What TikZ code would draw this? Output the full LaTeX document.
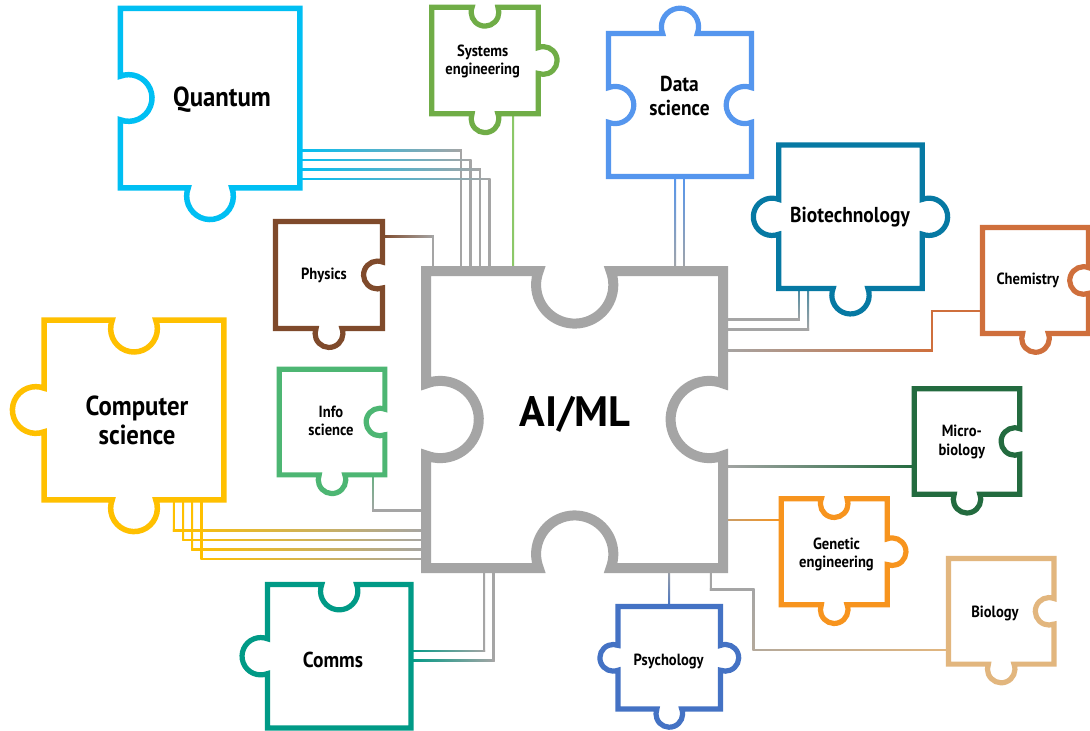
\documentclass[tikz,border=0pt]{standalone}
\usepackage{fontspec}
\setmainfont{PT Sans}[FakeStretch=0.9]
\newfontfamily\aifont{PT Sans}
\usetikzlibrary{calc}

\definecolor{cgray}{HTML}{A5A5A5}
\definecolor{cquan}{HTML}{00BFF3}
\definecolor{csys}{HTML}{70AD47}
\definecolor{csysl}{HTML}{8CC868}
\definecolor{cdata}{HTML}{5596EE}
\definecolor{cbio}{HTML}{0679A3}
\definecolor{cchem}{HTML}{CF6F3C}
\definecolor{cphys}{HTML}{7F4A2B}
\definecolor{cinfo}{HTML}{4DB673}
\definecolor{ccomp}{HTML}{FFC000}
\definecolor{ccomm}{HTML}{009A86}
\definecolor{cmicro}{HTML}{236B3F}
\definecolor{cgen}{HTML}{F7941E}
\definecolor{cbiol}{HTML}{E2B67E}
\definecolor{cpsy}{HTML}{4472C4}

% knob on one side: phi, Mx, My, tx, ty, type (1 out, -1 in, 0 none)
\newcommand\pknob[6]{%
\ifnum#6=0\relax\else
 \pgfmathsetmacro\kx{#2-\ph*(#4)}\pgfmathsetmacro\ky{#3-\ph*(#5)}%
 \pgfpathlineto{\pgfpoint{\kx pt}{\ky pt}}%
 \ifnum#6>0
   \pgfmathsetmacro\ka{#1+90+\pal}\pgfmathsetmacro\kb{#1-90-\pal}%
 \else
   \pgfmathsetmacro\ka{#1+90-\pal}\pgfmathsetmacro\kb{#1+270+\pal}%
 \fi
 \pgfpatharc{\ka}{\kb}{\pr pt}%
\fi}

% piece: cx, cy (pixel, y down), size, colour, T, R, B, L, line width
\newcommand\piece[9]{%
\begingroup
\pgfmathsetmacro\pcx{#1}%
\pgfmathsetmacro\pcy{-(#2)}%
\pgfmathsetmacro\phs{(#3)/2}%
\pgfmathsetmacro\pr{0.13*(#3)}%
\pgfmathsetmacro\pd{0.047*(#3)}%
\pgfmathsetmacro\ph{sqrt(\pr*\pr-\pd*\pd)}%
\pgfmathsetmacro\pal{asin(\pd/\pr)}%
\pgfmathsetmacro\pxl{\pcx-\phs}\pgfmathsetmacro\pxr{\pcx+\phs}%
\pgfmathsetmacro\pyt{\pcy+\phs}\pgfmathsetmacro\pyb{\pcy-\phs}%
\pgfsetlinewidth{#9pt}\pgfsetstrokecolor{#4}\pgfsetfillcolor{white}\pgfsetmiterjoin
\pgfpathmoveto{\pgfpoint{\pxl pt}{\pyt pt}}%
\pknob{90}{\pcx}{\pyt}{1}{0}{#5}%
\pgfpathlineto{\pgfpoint{\pxr pt}{\pyt pt}}%
\pknob{0}{\pxr}{\pcy}{0}{-1}{#6}%
\pgfpathlineto{\pgfpoint{\pxr pt}{\pyb pt}}%
\pknob{-90}{\pcx}{\pyb}{-1}{0}{#7}%
\pgfpathlineto{\pgfpoint{\pxl pt}{\pyb pt}}%
\pknob{180}{\pxl}{\pcy}{0}{1}{#8}%
\pgfpathclose
\pgfusepath{fill,stroke}%
\endgroup}

% connector segments (shaded strokes between named points)
\newcommand\hcon[4]{\shade[left color=#3,right color=#4] ($(#1)+(-0.9,-0.9)$) rectangle ($(#2)+(0.9,0.9)$);}
\newcommand\vcon[4]{\shade[top color=#3,bottom color=#4] ($(#1)+(-0.9,0.9)$) rectangle ($(#2)+(0.9,-0.9)$);}

\tikzset{
  box/.style={inner sep=0pt, draw=none, minimum size=#1},
  lbl/.style={inner sep=0pt, align=center, text=black},
  lblL/.style={lbl, font=\bfseries\fontsize{27.5}{29}\selectfont},
  lblM/.style={lbl, font=\bfseries\fontsize{21.6}{23.3}\selectfont},
  lblS/.style={lbl, font=\bfseries\fontsize{16.2}{18.2}\selectfont},
  lblAI/.style={lbl, font=\aifont\bfseries\fontsize{42.5}{46}\selectfont},
}

\begin{document}
\begin{tikzpicture}[x=1pt,y=1pt]
\useasboundingbox (0,0) rectangle (1090,-731);
\fill[white] (0,0) rectangle (1090,-731);

% ---- named piece nodes (square bodies) ----
\node[box=297pt]   (AI) at (574.7,-419.5) {};
\node[box=179.5pt] (Q)  at (210,-98) {};
\node[box=106.5pt] (S)  at (485,-60.5) {};
\node[box=143pt]   (D)  at (680,-105) {};
\node[box=143.5pt] (B)  at (850.5,-216.8) {};
\node[box=106pt]   (C)  at (1035.5,-280.5) {};
\node[box=107pt]   (P)  at (329,-275) {};
\node[box=105.7pt] (I)  at (332,-422) {};
\node[box=179.6pt] (K)  at (134,-410) {};
\node[box=143.5pt] (O)  at (339.2,-656.2) {};
\node[box=105.6pt] (M)  at (967,-441.5) {};
\node[box=106pt]   (G)  at (834.2,-551.7) {};
\node[box=105.6pt] (L)  at (1001.2,-611.3) {};
\node[box=102.5pt] (Y)  at (669.3,-657.8) {};

% ---- connectors ----
% Quantum
\foreach \i/\x/\y in {1/461/150.3, 2/470.5/160, 3/480/169.5, 4/489.5/179}{
  \coordinate (qb\i) at (\x,-\y);
  \coordinate (qa\i) at (Q.east |- qb\i);
  \coordinate (qc\i) at (qb\i |- AI.north);
  \hcon{qa\i}{qb\i}{cquan}{cgray}
  \vcon{qb\i}{qc\i}{cgray}{cgray}
}
% Physics
\coordinate (pb) at (433,-236.5);
\coordinate (pa) at (P.east |- pb);
\coordinate (pc) at (pb |- AI.north);
\hcon{pa}{pb}{cphys}{cgray}
\vcon{pb}{pc}{cgray}{cgray}
% Systems engineering
\coordinate (sa) at ($(S.south)+(28.3,0)$);
\coordinate (sb) at (sa |- AI.north);
\vcon{sa}{sb}{csysl}{csysl}
% Data science
\foreach \i/\dx in {1/-4.7, 2/4}{
  \coordinate (da\i) at ($(D.south)+(\dx,0)$);
  \coordinate (db\i) at (da\i |- AI.north);
  \vcon{da\i}{db\i}{cdata}{cgray}
}
% Biotechnology
\foreach \i/\dx/\y in {1/-51.5/319.3, 2/-42.2/329.3}{
  \coordinate (ba\i) at ($(B.south)+(\dx,0)$);
  \coordinate (bb\i) at ($(ba\i |- 0,-\y)$);
  \coordinate (bc\i) at (AI.east |- bb\i);
  \vcon{ba\i}{bb\i}{cbio!60!cgray}{cgray}
  \hcon{bc\i}{bb\i}{cgray}{cgray}
}
% Chemistry
\coordinate (cb) at (932,-311);
\coordinate (ca) at (C.west |- cb);
\coordinate (cc) at (932,-350.7);
\coordinate (cd) at (AI.east |- cc);
\hcon{cb}{ca}{cchem}{cchem}
\vcon{cb}{cc}{cchem}{cchem}
\hcon{cd}{cc}{cgray}{cchem}
% Micro-biology
\coordinate (ma) at ($(M.west |- 0,-466.7)$);
\coordinate (mb) at (AI.east |- ma);
\hcon{mb}{ma}{cgray}{cmicro}
% Genetic engineering
\coordinate (ga) at ($(G.west |- 0,-520)$);
\coordinate (gb) at (AI.east |- ga);
\hcon{gb}{ga}{cgray!60!cgen}{cgen}
% Biology
\coordinate (la) at ($(AI.south)+(136.1,0)$);
\coordinate (lb) at ($(la)+(0,-21.3)$);
\coordinate (lc) at (753.5,-589.3);
\coordinate (ld) at (753.5,-650);
\coordinate (le) at (L.west |- ld);
\vcon{la}{lb}{cgray}{cgray}
\hcon{lb}{lc}{cgray}{cgray}
\vcon{lc}{ld}{cgray}{cgray!75!cbiol}
\hcon{ld}{le}{cgray!75!cbiol}{cbiol}
% Psychology
\coordinate (ya) at (AI.south -| Y.north);
\vcon{ya}{Y.north}{cgray}{cpsy}
% Comms
\foreach \i/\x/\y in {1/484.2/651, 2/493.6/660.3}{
  \coordinate (ob\i) at (\x,-\y);
  \coordinate (oa\i) at (O.east |- ob\i);
  \coordinate (oc\i) at (ob\i |- AI.south);
  \hcon{oa\i}{ob\i}{ccomm}{cgray}
  \vcon{oc\i}{ob\i}{cgray}{cgray}
}
% Info science
\coordinate (ia) at ($(I.south)+(41,0)$);
\coordinate (ib) at ($(ia |- 0,-510.7)$);
\coordinate (ic) at (AI.west |- ib);
\vcon{ia}{ib}{cinfo!70!cgray}{cgray}
\hcon{ib}{ic}{cgray}{cgray}
% Computer science
\foreach \i/\x/\y in {1/173.8/530.7, 2/183.2/540, 3/192.2/549.3, 4/201.6/559}{
  \coordinate (kb\i) at (\x,-\y);
  \coordinate (ka\i) at (kb\i |- K.south);
  \coordinate (kc\i) at (AI.west |- kb\i);
  \vcon{ka\i}{kb\i}{ccomp}{ccomp}
  \hcon{kb\i}{kc\i}{ccomp}{cgray}
}

% ---- puzzle pieces ----
\piece{574.7}{419.5}{297}{cgray}{-1}{-1}{-1}{-1}{10}
\piece{210}{98}{179.5}{cquan}{0}{0}{1}{-1}{5.5}
\piece{485}{60.5}{106.5}{csys}{-1}{1}{1}{0}{5.2}
\piece{680}{105}{143}{cdata}{1}{-1}{0}{-1}{5.2}
\piece{850.5}{216.8}{143.5}{cbio}{0}{1}{1}{1}{5.2}
\piece{1035.5}{280.5}{106}{cchem}{0}{-1}{1}{0}{5.2}
\piece{329}{275}{107}{cphys}{0}{-1}{1}{0}{5.2}
\piece{332}{422}{105.7}{cinfo}{0}{-1}{1}{0}{5.2}
\piece{134}{410}{179.6}{ccomp}{-1}{0}{1}{1}{5.5}
\piece{339.2}{656.2}{143.5}{ccomm}{-1}{0}{0}{1}{5.2}
\piece{967}{441.5}{105.6}{cmicro}{0}{-1}{1}{0}{5.2}
\piece{834.2}{551.7}{106}{cgen}{-1}{1}{1}{0}{5.2}
\piece{1001.2}{611.3}{105.6}{cbiol}{0}{-1}{1}{0}{5.2}
\piece{669.3}{657.8}{102.5}{cpsy}{0}{1}{1}{1}{5.2}

% ---- labels ----
\node[lblAI, anchor=base] (AIt) at (575,-426.7) {AI/ML};
\node[lblL, anchor=base] (Qt) at (222,-106) {Quantum};
\node[lblL] (Kt) at (137,-420) {Computer\\science};
\node[lblM] (Dt) at (679.5,-96) {Data\\science};
\node[lblM, anchor=base] (Bt) at (850,-222.7) {Biotechnology};
\node[lblM, anchor=base] (Ot) at (333,-667.7) {Comms};
\node[lblS] (St) at (482.7,-61.3) {Systems\\engineering};
\node[lblS, anchor=base] (Ct) at (1027.8,-284.2) {Chemistry};
\node[lblS, anchor=base] (Pt) at (324,-279.3) {Physics};
\node[lblS] (It) at (331,-420.6) {Info\\science};
\node[lblS] (Mt) at (961.8,-442) {Micro-\\biology};
\node[lblS] (Gt) at (836.5,-554.7) {Genetic\\engineering};
\node[lblS, anchor=base] (Lt) at (995,-617.3) {Biology};
\node[lblS, anchor=base] (Yt) at (668.7,-665) {Psychology};
\end{tikzpicture}
\end{document}
